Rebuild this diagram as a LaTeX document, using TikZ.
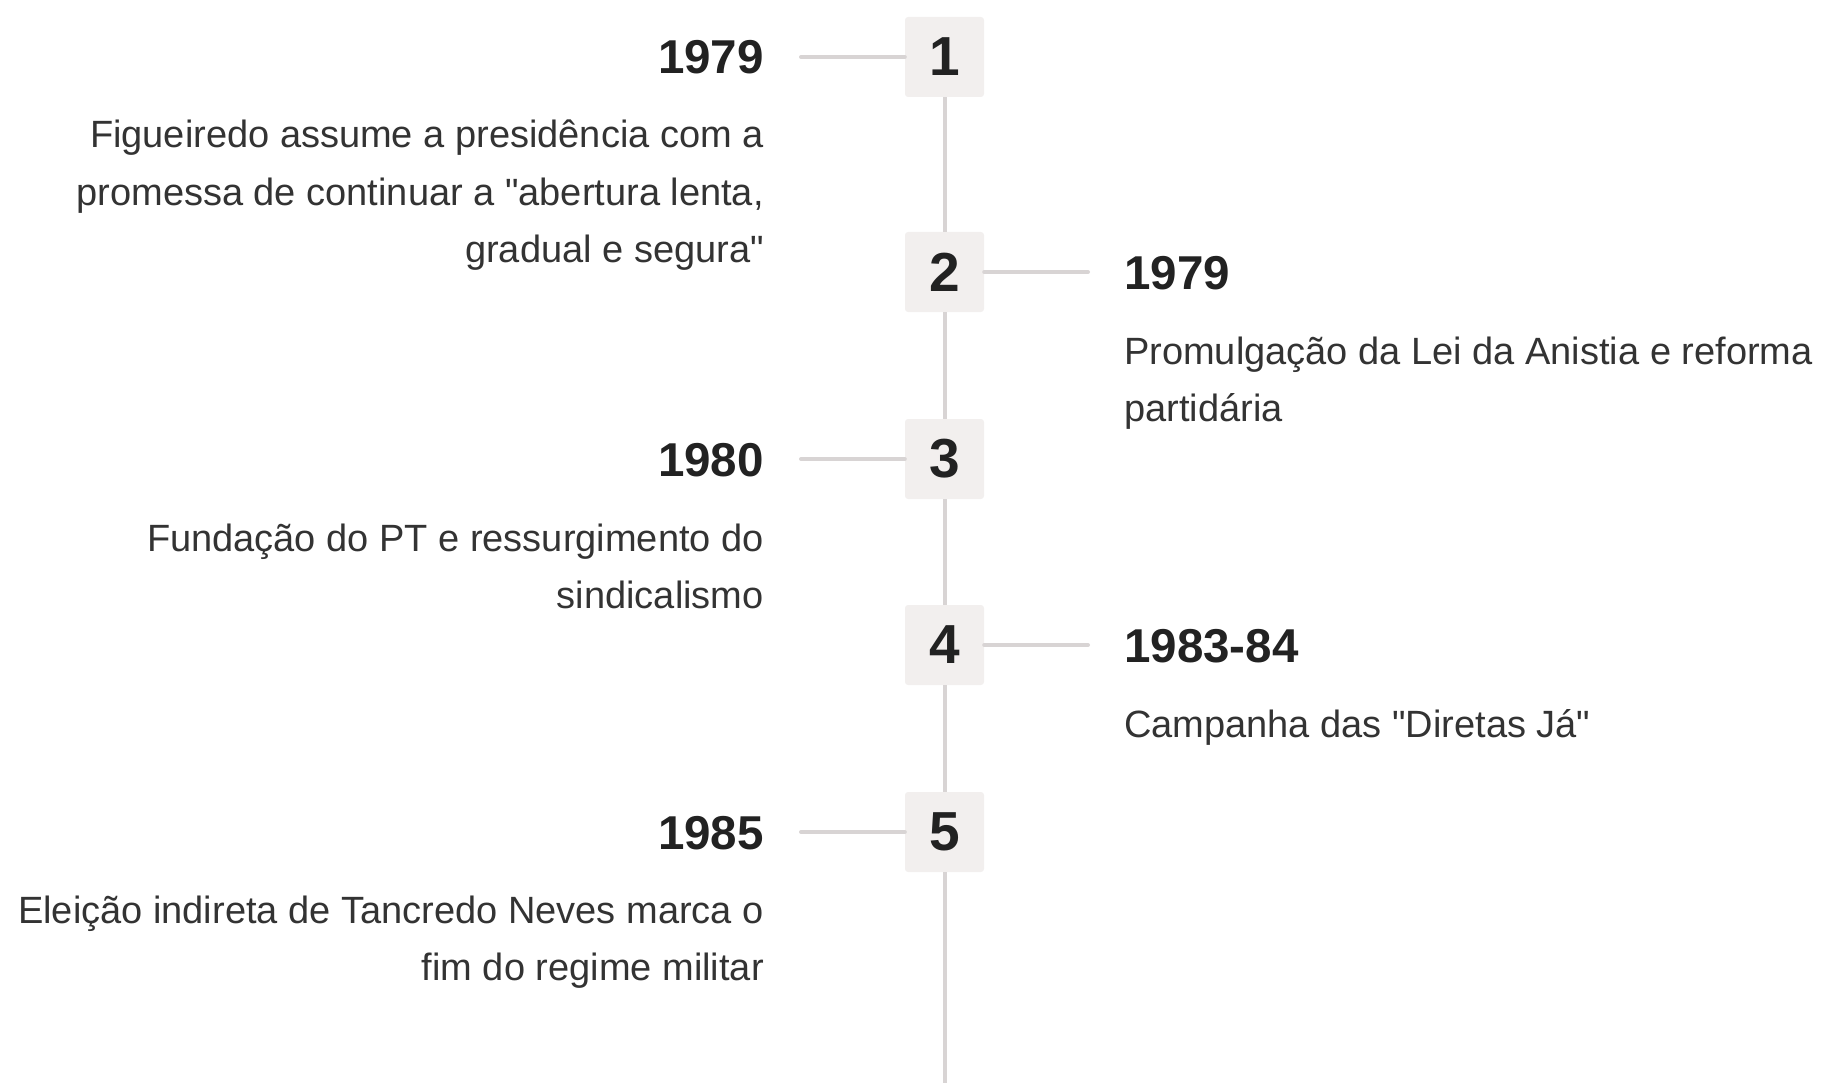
\documentclass[tikz,border=0pt]{standalone}
\usepackage{fontspec}
\setmainfont{Liberation Sans}[Ligatures=TeXOff]
\definecolor{linegray}{HTML}{D8D4D4}
\definecolor{boxfill}{HTML}{F2EFEE}
\definecolor{ink}{HTML}{222222}
\definecolor{bodyink}{HTML}{333333}
\begin{document}
\begin{tikzpicture}[x=1pt,y=-1pt,
  numbox/.style={fill=boxfill, rounded corners=3pt, minimum width=79pt, minimum height=80pt, inner sep=0pt, font=\fontsize{55}{60}\selectfont\bfseries, text=ink},
  yearl/.style={anchor=base east, inner sep=0pt, font=\fontsize{47.5}{55}\selectfont\bfseries, text=ink},
  yearr/.style={anchor=base west, inner sep=0pt, font=\fontsize{47.5}{55}\selectfont\bfseries, text=ink},
  bodyl/.style={anchor=base east, inner sep=0pt, font=\fontsize{38}{57}\selectfont, text=bodyink},
  bodyr/.style={anchor=base west, inner sep=0pt, font=\fontsize{38}{57}\selectfont, text=bodyink},
  conn/.style={draw=linegray, line width=4pt, line cap=round},
  spine/.style={draw=linegray, line width=4pt}]
\useasboundingbox (0,0) rectangle (1825,1083);
% boxes
\node[numbox] (b1) at (944.5,57) {1};
\node[numbox] (b2) at (944.5,272) {2};
\node[numbox] (b3) at (944.5,459) {3};
\node[numbox] (b4) at (944.5,645) {4};
\node[numbox] (b5) at (944.5,832) {5};
\coordinate (bot) at (944.5,1083);
% spine
\draw[spine] (b1.south) -- (b2.north);
\draw[spine] (b2.south) -- (b3.north);
\draw[spine] (b3.south) -- (b4.north);
\draw[spine] (b4.south) -- (b5.north);
\draw[spine] (b5.south) -- (bot);
% connectors
\coordinate (c1) at (801,57);
\coordinate (c2) at (1088,272);
\coordinate (c3) at (801,459);
\coordinate (c4) at (1088,645);
\coordinate (c5) at (801,832);
\draw[conn] (c1) -- (b1.west);
\draw[conn] (b2.east) -- (c2);
\draw[conn] (c3) -- (b3.west);
\draw[conn] (b4.east) -- (c4);
\draw[conn] (c5) -- (b5.west);
% item 1
\node[yearl] (y1) at (764,74) {1979};
\node[bodyl] (t1a) at (764,148) {Figueiredo assume a presidência com a};
\node[bodyl] (t1b) at (764,205.3) {promessa de continuar a "abertura lenta,};
\node[bodyl] (t1c) at (764,262.6) {gradual e segura"};
% item 2
\node[yearr] (y2) at (1124,289.5) {1979};
\node[bodyr] (t2a) at (1124,364) {Promulgação da Lei da Anistia e reforma};
\node[bodyr] (t2b) at (1124,421) {partidária};
% item 3
\node[yearl] (y3) at (764,476.5) {1980};
\node[bodyl] (t3a) at (764,551) {Fundação do PT e ressurgimento do};
\node[bodyl] (t3b) at (764,608) {sindicalismo};
% item 4
\node[yearr] (y4) at (1124,662.5) {1983-84};
\node[bodyr] (t4a) at (1124,737) {Campanha das "Diretas Já"};
% item 5
\node[yearl] (y5) at (764,849) {1985};
\node[bodyl] (t5a) at (764,923) {Eleição indireta de Tancredo Neves marca o};
\node[bodyl] (t5b) at (764,980) {fim do regime militar};
\end{tikzpicture}
\end{document}
